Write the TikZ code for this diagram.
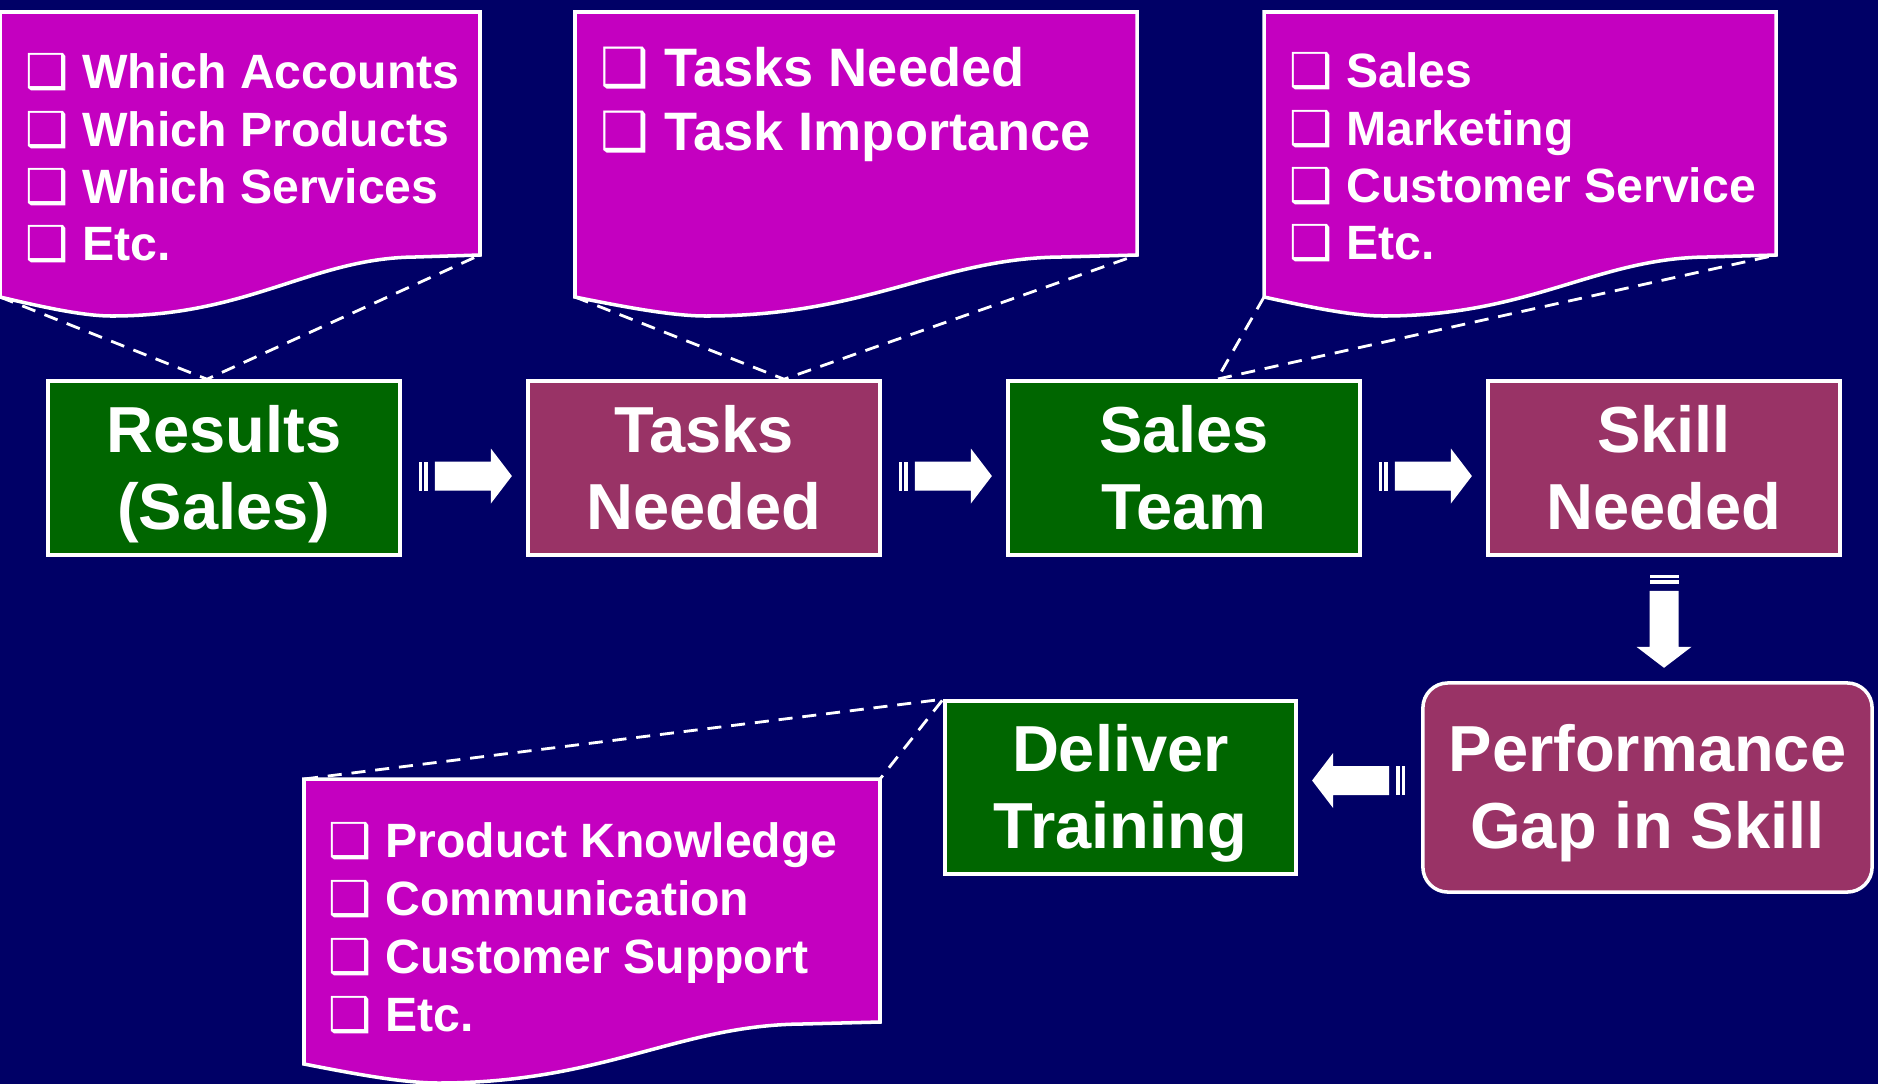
\documentclass[tikz,border=0pt]{standalone}
\usepackage{fontspec}
\setmainfont{Liberation Sans}
\newfontfamily\symfont{DejaVu Sans}

\definecolor{bgnavy}{RGB}{0,0,102}
\definecolor{stepgreen}{RGB}{0,102,0}
\definecolor{stepmaroon}{RGB}{153,51,102}
\definecolor{notemagenta}{RGB}{196,0,192}

\newcommand{\chk}{{\symfont\char"2751}}
% two lines with fixed height and depth, so every box text sits alike
\newcommand{\steplabel}[2]{\rule{0pt}{17.5pt}#1\\#2\rule[-4.5pt]{0pt}{4.5pt}}

% sheet with a wavy lower edge: left x, top y, width, name
\newcommand{\notesheet}[4]{%
  \draw[note] (#1,#2) -- (#1+#3,#2) -- (#1+#3,#2+243)
    -- (#1+0.865*#3,#2+245)
    .. controls (#1+0.65*#3,#2+246) and (#1+0.52*#3,#2+304) .. (#1+0.233*#3,#2+304)
    .. controls (#1+0.17*#3,#2+304) and (#1+0.08*#3,#2+294) .. (#1,#2+285) -- cycle;
  \coordinate (#4-tl) at (#1,#2);
  \coordinate (#4-tr) at (#1+#3,#2);
  \coordinate (#4-br) at (#1+#3,#2+243);
  \coordinate (#4-bl) at (#1,#2+285);
}

\tikzset{
  stepbox/.style={draw=white, line width=1pt, text=white, align=center,
    font=\fontsize{18.5}{21.9}\selectfont\bfseries,
    minimum width=3.52cm, minimum height=1.74cm, inner sep=0pt},
  note/.style={fill=notemagenta, draw=white, line width=1pt},
  notetext/.style={text=white, anchor=base west, inner sep=0pt,
    font=\fontsize{13.7}{16.4}\selectfont\bfseries},
  bignotetext/.style={notetext, font=\fontsize{15.4}{18.2}\selectfont\bfseries},
  link/.style={draw=white, line width=0.8pt, dash pattern=on 4pt off 2.8pt},
  stripedarrow/.pic={
    \fill[white] (0,-14.5) rectangle (3,14.5);
    \fill[white] (5,-14.5) rectangle (9,14.5);
    \fill[white] (16,-14.5) -- (72,-14.5) -- (72,-27.5) -- (93,0)
      -- (72,27.5) -- (72,14.5) -- (16,14.5) -- cycle;
  }
}

\begin{document}
\begin{tikzpicture}[x=0.01cm, y=-0.01cm]
    \useasboundingbox (0,0) rectangle (1878,1084);
    \fill[bgnavy] (0,0) rectangle (1878,1084);

    \notesheet{0}{12}{480}{n1}
    \notesheet{575}{12}{562}{n2}
    \notesheet{1264}{12}{512}{n3}
    \notesheet{304}{779}{576}{n4}

    \node[notetext] (n1a) at (25,88) {\chk\ Which Accounts};
    \node[notetext] (n1b) at (25,146) {\chk\ Which Products};
    \node[notetext] (n1c) at (25,203) {\chk\ Which Services};
    \node[notetext] (n1d) at (25,260) {\chk\ Etc.};

    \node[bignotetext] (n2a) at (600,86) {\chk\ Tasks Needed};
    \node[bignotetext] (n2b) at (600,150) {\chk\ Task Importance};

    \node[notetext] (n3a) at (1289,87) {\chk\ Sales};
    \node[notetext] (n3b) at (1289,145) {\chk\ Marketing};
    \node[notetext] (n3c) at (1289,202) {\chk\ Customer Service};
    \node[notetext] (n3d) at (1289,259) {\chk\ Etc.};

    \node[notetext] (n4a) at (328,857) {\chk\ Product Knowledge};
    \node[notetext] (n4b) at (328,915) {\chk\ Communication};
    \node[notetext] (n4c) at (328,973) {\chk\ Customer Support};
    \node[notetext] (n4d) at (328,1031) {\chk\ Etc.};

    \node[stepbox, fill=stepgreen] (res) at (224,468) {\steplabel{Results}{(Sales)}};
    \node[stepbox, fill=stepmaroon] (tasks) at (704,468) {\steplabel{Tasks}{Needed}};
    \node[stepbox, fill=stepgreen] (team) at (1184,468) {\steplabel{Sales}{Team}};
    \node[stepbox, fill=stepmaroon] (skill) at (1664,468) {\steplabel{Skill}{Needed}};
    \node[stepbox, fill=stepmaroon, rounded corners=0.25cm,
      minimum width=4.49cm, minimum height=2.09cm] (gap) at (1647.5,787.5) {\steplabel{Performance}{Gap in Skill}};
    \node[stepbox, fill=stepgreen, minimum width=3.51cm, minimum height=1.73cm] (deliver) at (1120.5,787.5) {\steplabel{Deliver}{Training}};

    \draw[link] (n1-bl) -- ([xshift=-0.17cm]res.north) -- (n1-br);
    \draw[link] (n2-bl) -- ([xshift=0.8cm]tasks.north) -- (n2-br);
    \draw[link] (n3-bl) -- ([xshift=0.33cm]team.north) -- (n3-br);
    \draw[link] (n4-tl) -- (deliver.north west) -- (n4-tr);

    \path ([shift={(0.17cm,-0.08cm)}]res.east) pic {stripedarrow};
    \path ([shift={(0.17cm,-0.08cm)}]tasks.east) pic {stripedarrow};
    \path ([shift={(0.17cm,-0.08cm)}]team.east) pic {stripedarrow};
    \path ([yshift=-0.18cm]skill.south) pic[rotate=-90] {stripedarrow};
    \path ([shift={(-0.16cm,0.07cm)}]gap.west) pic[rotate=180] {stripedarrow};
  \end{tikzpicture}
\end{document}
